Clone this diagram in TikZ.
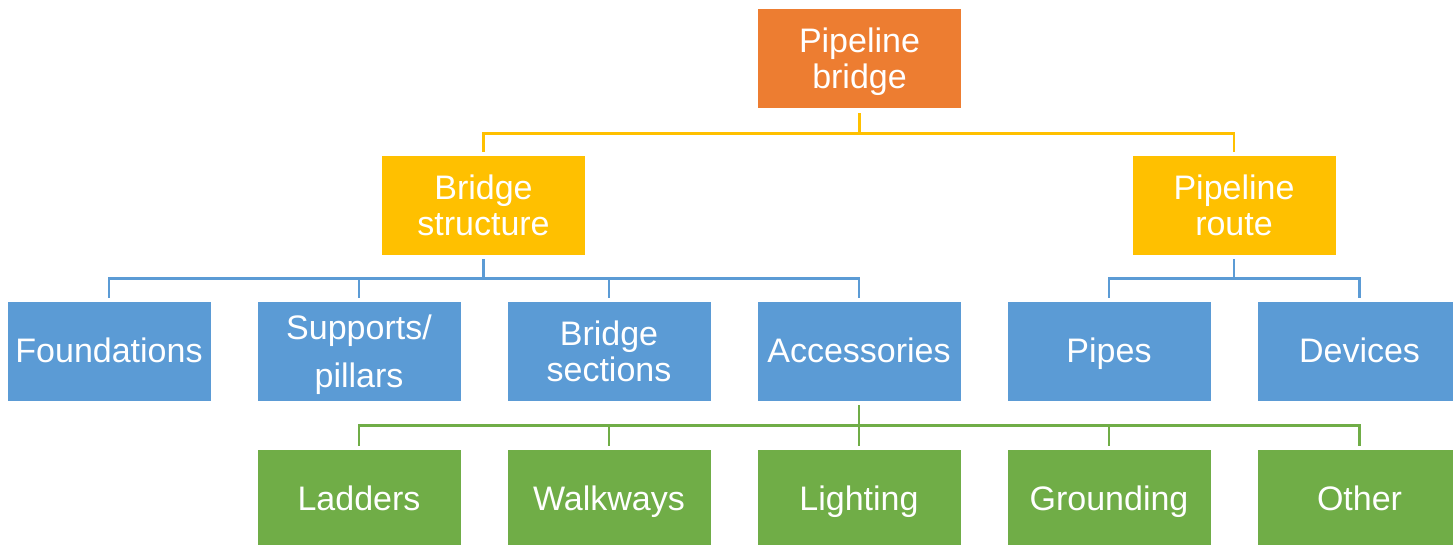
\documentclass[tikz,border=0pt]{standalone}
\usepackage{fontspec}
\setmainfont{Liberation Sans}
\definecolor{corange}{HTML}{ED7D31}
\definecolor{cgold}{HTML}{FFC000}
\definecolor{cblue}{HTML}{5B9BD5}
\definecolor{cgreen}{HTML}{70AD47}
\begin{document}
\begin{tikzpicture}[x=1pt,y=-1pt,
  box/.style={minimum width=203pt,minimum height=99pt,inner sep=0pt,align=center,
    text=white,font=\fontsize{34}{36}\selectfont},
  one/.style={text height=28pt,text depth=7pt},
  obox/.style={box,fill=corange},
  gbox/.style={box,fill=cgold},
  bbox/.style={box,fill=cblue},
  grbox/.style={box,fill=cgreen},
  conn/.style={line width=2.6pt},
  yl/.style={conn,draw=cgold},
  bl/.style={conn,draw=cblue},
  gl/.style={conn,draw=cgreen}]
\useasboundingbox (0,0) rectangle (1453,544);
% level 1
\node[obox,text depth=0pt] (pb) at (859.5,58.5) {Pipeline\\bridge};
% level 2
\node[gbox] (bs) at (483.5,205.5) {Bridge\\structure};
\node[gbox] (pr) at (1234,205.5) {Pipeline\\route};
% level 3
\node[bbox,one] (fo) at (109,351.5) {Foundations};
\node[bbox,text depth=0pt] (sp) at (359,351.5) {Supports/\\[12pt]pillars};
\node[bbox] (bse) at (609,351.5) {Bridge\\sections};
\node[bbox,one] (ac) at (859,351.5) {Accessories};
\node[bbox,one] (pi) at (1109,351.5) {Pipes};
\node[bbox,one] (de) at (1359.5,351.5) {Devices};
% level 4
\node[grbox,one] (la) at (359,499.5) {Ladders};
\node[grbox,one] (wa) at (609,499.5) {Walkways};
\node[grbox,one] (li) at (859,499.5) {Lighting};
\node[grbox,one] (gr) at (1109,499.5) {Grounding};
\node[grbox,one] (ot) at (1359.5,499.5) {Other};
% connectors level 1-2
\foreach \c in {bs,pr}
  \draw[yl] ([yshift=-5pt]pb.south) -- ([yshift=-25pt]pb.south) -| ([yshift=4pt]\c.north);
% connectors level 2-3
\foreach \c in {fo,sp,bse,ac}
  \draw[bl] ([yshift=-4pt]bs.south) -- ([yshift=-23pt]bs.south) -| ([yshift=4pt]\c.north);
\foreach \c in {pi,de}
  \draw[bl] ([yshift=-4pt]pr.south) -- ([yshift=-23pt]pr.south) -| ([yshift=4pt]\c.north);
% connectors level 3-4
\foreach \c in {la,wa,li,gr,ot}
  \draw[gl] ([yshift=-4pt]ac.south) -- ([yshift=-24pt]ac.south) -| ([yshift=4pt]\c.north);
\end{tikzpicture}
\end{document}
